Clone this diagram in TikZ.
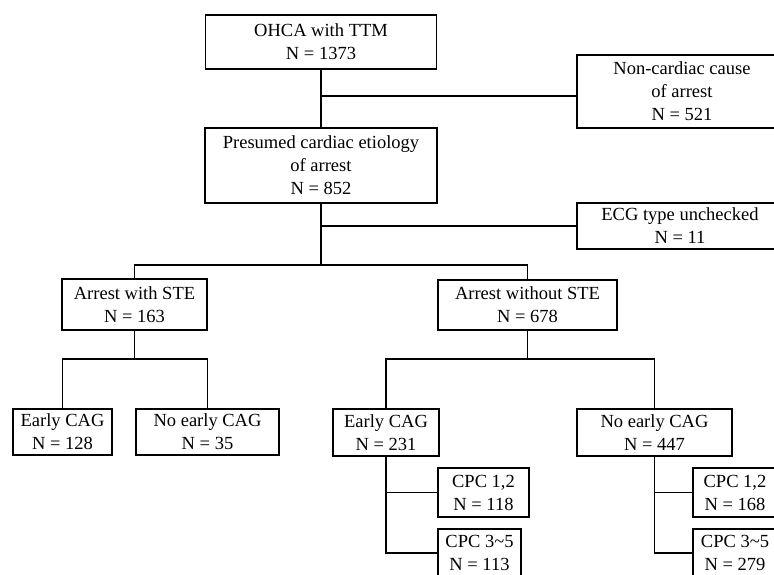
\documentclass[tikz,border=0pt]{standalone}
\usepackage{fontspec}
\setmainfont{Liberation Serif}
\begin{document}
\begin{tikzpicture}[x=1pt,y=-1pt,
  box/.style={draw,line width=1.6pt,align=center,inner sep=0pt,font=\fontsize{18.5}{23}\selectfont},
  conn/.style={line width=1.6pt}]
\useasboundingbox (0,0) rectangle (774,574);
\clip (0,0) rectangle (774,574);
\node[box,minimum width=231pt,minimum height=54pt] (top) at (321,42) {OHCA with TTM\\N = 1373};
\node[box,minimum width=210pt,minimum height=73pt] (noncard) at (682,91.5) {Non-cardiac cause\\of arrest\\N = 521};
\node[box,minimum width=232pt,minimum height=75pt] (presumed) at (321,165.5) {Presumed cardiac etiology\\of arrest\\N = 852};
\node[box,minimum width=206pt,minimum height=46pt] (ecg) at (680,226) {ECG type unchecked\\N = 11};
\node[box,minimum width=145pt,minimum height=51pt] (ste) at (134.5,304.5) {Arrest with STE\\N = 163};
\node[box,minimum width=179pt,minimum height=50pt] (nste) at (527.5,305) {Arrest without STE\\N = 678};
\node[box,minimum width=99pt,minimum height=46pt] (ecagL) at (62.5,432) {Early CAG\\N = 128};
\node[box,minimum width=143pt,minimum height=46pt] (necagL) at (207.5,432) {No early CAG\\N = 35};
\node[box,minimum width=106pt,minimum height=47pt] (ecagM) at (386,432.5) {Early CAG\\N = 231};
\node[box,minimum width=155pt,minimum height=47pt] (necagR) at (654.5,432.5) {No early CAG\\N = 447};
\node[box,minimum width=91pt,minimum height=49pt] (cpcAM) at (483.5,492.5) {CPC 1,2\\N = 118};
\node[box,minimum width=83pt,minimum height=48pt] (cpcBM) at (479.5,553) {CPC 3\textasciitilde5\\N = 113};
\node[box,minimum width=84pt,minimum height=49pt] (cpcAR) at (735,492.5) {CPC 1,2\\N = 168};
\node[box,minimum width=84pt,minimum height=48pt] (cpcBR) at (735,553) {CPC 3\textasciitilde5\\N = 279};
\coordinate (j1) at (321,96);
\coordinate (j3) at (321,265);
\coordinate (j4) at (134.5,359);
\coordinate (j5) at (527.5,359);
\draw[conn] (top.south) -- (presumed.north);
\draw[conn] (j1) -- (j1 -| noncard.west);
\draw[conn] (presumed.south) -- (j3);
\draw[conn] (presumed.south |- ecg.west) -- (ecg.west);
\draw[conn] (ste.north) |- (j3) -| (nste.north);
\draw[conn] (ste.south) -- (j4);
\draw[conn] (ecagL.north) |- (j4) -| (necagL.north);
\draw[conn] (nste.south) -- (j5);
\draw[conn] (ecagM.north) |- (j5) -| (necagR.north);
\draw[conn] (ecagM.south) |- (cpcBM.west);
\draw[conn] (ecagM.south |- cpcAM.west) -- (cpcAM.west);
\draw[conn] (necagR.south) |- (cpcBR.west);
\draw[conn] (necagR.south |- cpcAR.west) -- (cpcAR.west);
\end{tikzpicture}
\end{document}
